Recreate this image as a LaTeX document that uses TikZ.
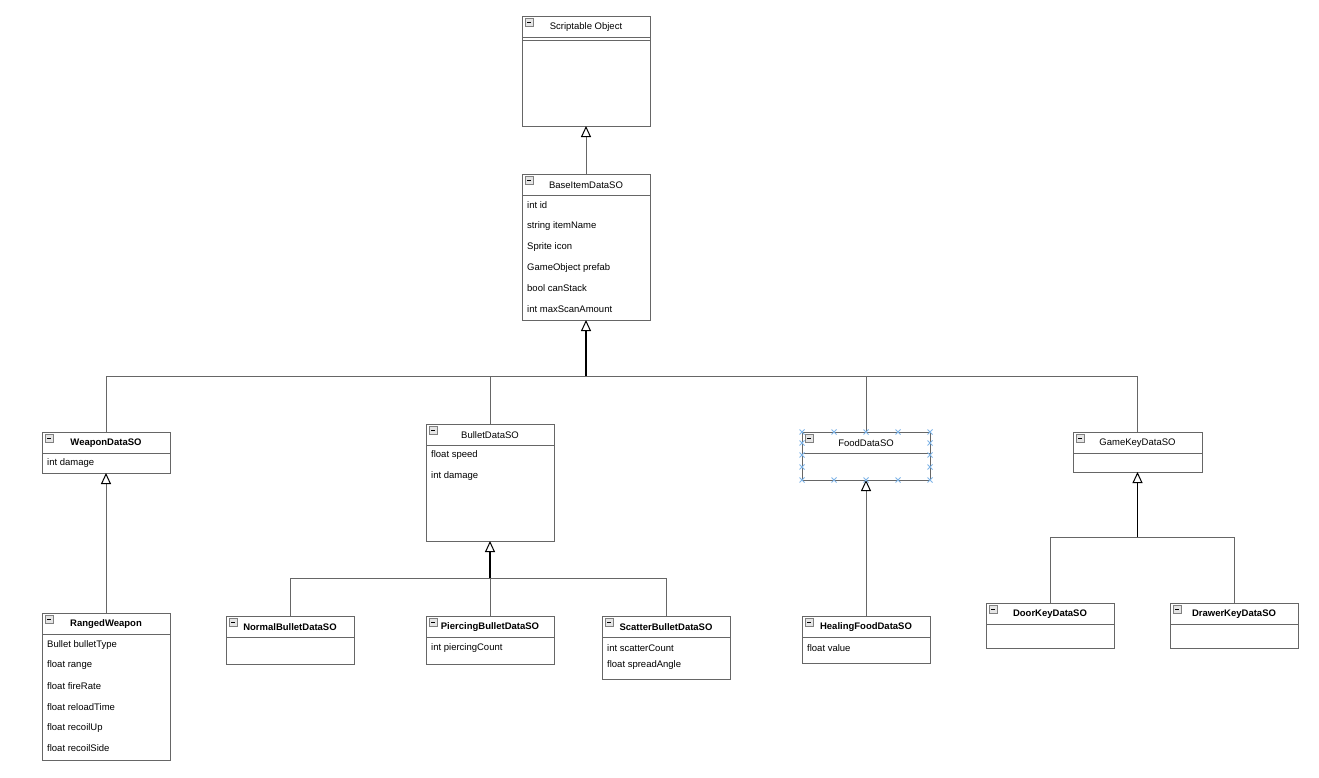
\documentclass[tikz,border=0pt]{standalone}
\usepackage{fontspec}
\setmainfont{Liberation Sans}
\usetikzlibrary{arrows.meta}
\definecolor{boxgray}{HTML}{666666}
\definecolor{selblue}{HTML}{7FB5E8}
\tikzset{
  classbox/.style={draw=boxgray, line width=1pt, fill=white, anchor=north west, inner sep=0pt, outer sep=0pt},
  sepline/.style={draw=boxgray, line width=1pt},
  titletext/.style={font=\fontsize{9.5}{11}\selectfont, inner sep=0pt},
  attrtext/.style={font=\fontsize{9.5}{11}\selectfont, inner sep=0pt, anchor=west},
  iconbox/.style={draw=black!50, fill=black!10, line width=0.6pt},
  conn/.style={draw=boxgray, line width=1pt},
  opentip/.style={-{Triangle[open,length=11pt,width=10pt,line width=1pt,color=black]}},
  trunk/.style={draw=black, line width=1.5pt, opentip},
  inheritg/.style={draw=boxgray, line width=1pt, opentip},
  selmark/.style={draw=selblue, line width=0.9pt},
}
\newcommand\umlclass[6]{%
  \node[classbox, minimum width=#4pt, minimum height=#5pt] (#1) at (#2,#3) {};
  \draw[sepline] ([yshift=-21pt]#1.north west) -- ([yshift=-21pt]#1.north east);
  \draw[iconbox] ([xshift=3pt,yshift=-2.5pt]#1.north west) rectangle ([xshift=11pt,yshift=-10pt]#1.north west);
  \draw[line width=0.8pt] ([xshift=5pt,yshift=-6.25pt]#1.north west) -- ([xshift=9pt,yshift=-6.25pt]#1.north west);
  \node[titletext] (#1-t) at ([yshift=-11pt]#1.north) {#6};
}
\newcommand\selx[2]{\draw[selmark] (#1-2.5,#2-2.5) -- (#1+2.5,#2+2.5) (#1-2.5,#2+2.5) -- (#1+2.5,#2-2.5);}
\begin{document}
\begin{tikzpicture}[x=1pt,y=-1pt]
\useasboundingbox[fill=white] (0,0) rectangle (1319,777);

% classes
\umlclass{so}{522}{16}{128}{110}{Scriptable Object}
\draw[sepline] ([yshift=-24pt]so.north west) -- ([yshift=-24pt]so.north east);

\umlclass{base}{522}{174}{128}{146}{BaseItemDataSO}
\node[attrtext] (base-a1) at (527,205.5) {int id};
\node[attrtext] (base-a2) at (527,226.5) {string itemName};
\node[attrtext] (base-a3) at (527,247.5) {Sprite icon};
\node[attrtext] (base-a4) at (527,268.5) {GameObject prefab};
\node[attrtext] (base-a5) at (527,288.5) {bool canStack};
\node[attrtext] (base-a6) at (527,309.5) {int maxScanAmount};

\umlclass{weapon}{42}{432}{128}{41}{\textbf{WeaponDataSO}}
\node[attrtext] (weapon-a1) at (47,463.5) {int damage};

\umlclass{bullet}{426}{424}{128}{117}{BulletDataSO}
\node[attrtext] (bullet-a1) at (431,455.5) {float speed};
\node[attrtext] (bullet-a2) at (431,476.5) {int damage};

\umlclass{food}{802}{432}{128}{48}{FoodDataSO}

\umlclass{gamekey}{1073}{432}{129}{40}{GameKeyDataSO}

\umlclass{ranged}{42}{613}{128}{147}{\textbf{RangedWeapon}}
\node[attrtext] (ranged-a1) at (47,645.5) {Bullet bulletType};
\node[attrtext] (ranged-a2) at (47,665.5) {float range};
\node[attrtext] (ranged-a3) at (47,686.5) {float fireRate};
\node[attrtext] (ranged-a4) at (47,707.5) {float reloadTime};
\node[attrtext] (ranged-a5) at (47,728.5) {float recoilUp};
\node[attrtext] (ranged-a6) at (47,748.5) {float recoilSide};

\umlclass{normal}{226}{616}{128}{48}{\textbf{NormalBulletDataSO}}

\umlclass{piercing}{426}{616}{128}{48}{\textbf{PiercingBulletDataSO}}
\node[attrtext] (piercing-a1) at (431,648.5) {int piercingCount};

\umlclass{scatter}{602}{616}{128}{63}{\textbf{ScatterBulletDataSO}}
\node[attrtext] (scatter-a1) at (607,648.5) {int scatterCount};
\node[attrtext] (scatter-a2) at (607,665.5) {float spreadAngle};

\umlclass{healing}{802}{616}{128}{47}{\textbf{HealingFoodDataSO}}
\node[attrtext] (healing-a1) at (807,648.5) {float value};

\umlclass{door}{986}{603}{128}{45}{\textbf{DoorKeyDataSO}}
\umlclass{drawer}{1170}{603}{128}{45}{\textbf{DrawerKeyDataSO}}

% connectors
\draw[inheritg] (base.north) -- (so.south);

\coordinate (bus1) at (586,376);
\draw[conn] (weapon.north) |- (bus1);
\draw[conn] (bullet.north) |- (bus1);
\draw[conn] (food.north) |- (bus1);
\draw[conn] (gamekey.north) |- (bus1);
\draw[trunk] (bus1) -- (base.south);

\draw[inheritg] (ranged.north) -- (weapon.south);

\coordinate (bus2) at (490,578);
\draw[conn] (normal.north) |- (bus2);
\draw[conn] (piercing.north) |- (bus2);
\draw[conn] (scatter.north) |- (bus2);
\draw[trunk] (bus2) -- (bullet.south);

\draw[inheritg] (healing.north) -- (food.south);

\coordinate (bus3) at (1137.5,537);
\draw[conn] (door.north) |- (bus3);
\draw[conn] (drawer.north) |- (bus3);
\draw[trunk] (bus3) -- (gamekey.south);

% selection handles on FoodDataSO
\foreach \xx in {802,834,866,898,930} {\selx{\xx}{432}\selx{\xx}{480}}
\foreach \yy in {443,455,467} {\selx{802}{\yy}\selx{930}{\yy}}
\end{tikzpicture}
\end{document}
